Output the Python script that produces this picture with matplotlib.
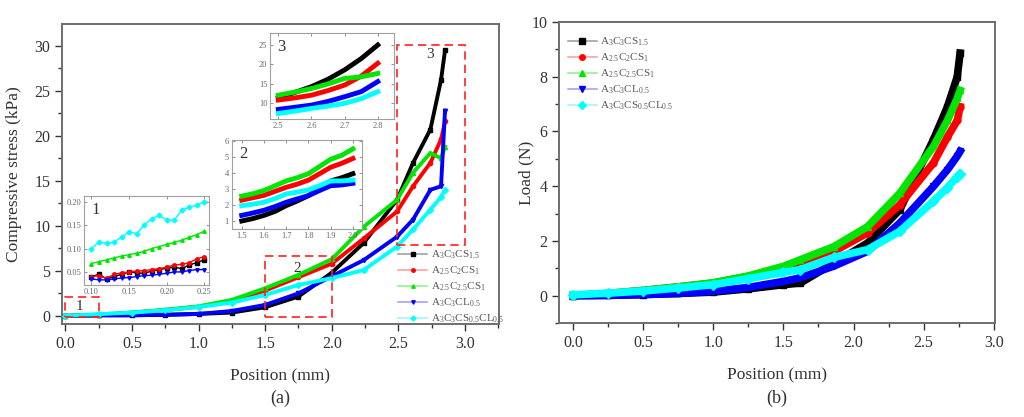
import matplotlib.pyplot as plt
from matplotlib.patches import Rectangle
from matplotlib.ticker import MultipleLocator

plt.rcParams['font.family'] = ['Liberation Serif', 'DejaVu Serif']
plt.rcParams['mathtext.fontset'] = 'custom'
plt.rcParams['mathtext.rm'] = 'Liberation Serif'

# series names and colours
labels = [r'$\mathrm{A_3C_3CS_{1.5}}$', r'$\mathrm{A_{2.5}C_2CS_1}$',
          r'$\mathrm{A_{2.5}C_{2.5}CS_1}$', r'$\mathrm{A_3C_3CL_{0.5}}$',
          r'$\mathrm{A_3C_3CS_{0.5}CL_{0.5}}$']
colors = ['#000000', '#ff0000', '#00e600', '#0000ff', '#00ffff']
markers = ['s', 'o', '^', 'v', 'D']
pale = ['#9a9a9a', '#ff9a9a', '#8af08a', '#9a9aff', '#9af5f5']

# (a) compressive stress (kPa) vs position (mm)
pos_a = [0.0, 0.25, 0.5, 0.75, 1.0, 1.25, 1.5, 1.75, 2.0, 2.24, 2.49, 2.61, 2.74, 2.82, 2.85]
black_a = [0, 0.08, 0.07, 0.12, 0.22, 0.37, 0.96, 2.15, 4.8, 8.1, 12.9, 17.0, 20.7, 26.2, 29.5]
red_a = [0, 0.085, 0.37, 0.65, 1.02, 1.65, 2.81, 4.3, 5.8, 8.6, 11.6, 14.4, 17.0, 19.6, 21.6]
green_a = [0, 0.137, 0.38, 0.68, 1.06, 1.78, 3.07, 4.56, 6.3, 9.9, 12.9, 15.9, 18.1, 17.5, 18.8]
blue_a = [0, 0.055, 0.07, 0.12, 0.22, 0.55, 1.22, 2.5, 4.4, 6.2, 8.8, 10.7, 14.0, 14.4, 22.8]
cyan_a = [0, 0.2, 0.36, 0.62, 0.98, 1.48, 2.33, 3.44, 4.2, 5.1, 7.7, 9.6, 11.8, 13.2, 14.0]

# inset 1
pos_i1 = [0.10, 0.11, 0.12, 0.13, 0.14, 0.15, 0.16, 0.17, 0.18, 0.19, 0.20, 0.21, 0.22, 0.23, 0.24, 0.25]
black_i1 = [0.04, 0.045, 0.035, 0.04, 0.045, 0.05, 0.048, 0.047, 0.052, 0.055, 0.058, 0.06, 0.057, 0.065, 0.07, 0.076]
red_i1 = [0.04, 0.042, 0.036, 0.045, 0.048, 0.05, 0.052, 0.053, 0.055, 0.057, 0.06, 0.065, 0.066, 0.07, 0.078, 0.083]
green_i1 = [0.068, 0.072, 0.076, 0.08, 0.084, 0.087, 0.09, 0.094, 0.1, 0.104, 0.109, 0.113, 0.118, 0.124, 0.13, 0.137]
blue_i1 = [0.035, 0.033, 0.033, 0.035, 0.037, 0.038, 0.04, 0.042, 0.043, 0.045, 0.047, 0.05, 0.05, 0.053, 0.055, 0.055]
cyan_i1 = [0.10, 0.114, 0.111, 0.114, 0.125, 0.136, 0.132, 0.15, 0.164, 0.171, 0.161, 0.161, 0.182, 0.189, 0.193, 0.2]

# inset 2
pos_i2 = [1.5, 1.55, 1.6, 1.65, 1.7, 1.75, 1.8, 1.85, 1.9, 1.95, 2.0]
black_i2 = [1.0, 1.15, 1.35, 1.6, 1.96, 2.25, 2.58, 3.05, 3.5, 3.7, 3.95]
red_i2 = [2.3, 2.45, 2.6, 2.85, 3.1, 3.3, 3.55, 3.95, 4.35, 4.6, 4.9]
green_i2 = [2.55, 2.7, 2.9, 3.2, 3.5, 3.7, 3.95, 4.4, 4.85, 5.1, 5.5]
blue_i2 = [1.35, 1.5, 1.67, 1.9, 2.17, 2.38, 2.58, 2.9, 3.2, 3.25, 3.35]
cyan_i2 = [1.95, 2.05, 2.17, 2.4, 2.69, 2.8, 2.94, 3.2, 3.5, 3.5, 3.55]

# inset 3
pos_i3 = [2.5, 2.55, 2.6, 2.65, 2.7, 2.75, 2.8]
black_i3 = [11.5, 12.8, 14.3, 16.2, 18.6, 21.5, 25.0]
red_i3 = [10.85, 11.4, 12.1, 13.3, 14.7, 17.0, 20.3]
green_i3 = [12.1, 12.9, 13.8, 15.0, 16.4, 16.8, 17.7]
blue_i3 = [8.45, 9.0, 9.55, 10.5, 11.7, 13.0, 15.6]
cyan_i3 = [7.4, 8.0, 8.7, 9.3, 10.0, 11.2, 13.0]

# (b) load (N) vs position (mm)
pos_b = [0.0, 0.25, 0.5, 0.75, 1.0, 1.25, 1.5, 1.62, 1.86, 2.1, 2.33, 2.57, 2.67, 2.74, 2.76]
black_b = [0, 0.01, 0.04, 0.08, 0.13, 0.25, 0.4, 0.46, 1.19, 1.92, 3.14, 5.7, 6.9, 8.0, 8.86]
red_b = [0, 0.08, 0.19, 0.32, 0.46, 0.7, 1.0, 1.13, 1.62, 2.29, 3.32, 4.85, 5.8, 6.4, 6.9]
green_b = [0, 0.08, 0.19, 0.32, 0.47, 0.72, 1.07, 1.31, 1.79, 2.52, 3.74, 5.45, 6.4, 7.21, 7.5]
blue_b = [0, 0.01, 0.04, 0.08, 0.16, 0.3, 0.52, 0.65, 1.08, 1.62, 2.65, 3.99, 4.6, 5.1, 5.27]
cyan_b = [0.03, 0.09, 0.17, 0.28, 0.4, 0.62, 0.85, 0.95, 1.4, 1.68, 2.35, 3.45, 3.95, 4.35, 4.45]

# zoom boxes on (a): x0, x1, y0, y1, label x, label y, label
zoom_boxes = [(0.0, 0.25, -0.15, 2.1, 0.11, 1.1, '1'),
              (1.5, 2.0, -0.15, 6.6, 1.74, 5.3, '2'),
              (2.49, 3.0, 7.9, 30.1, 2.74, 29.0, '3')]

series_a = [black_a, red_a, green_a, blue_a, cyan_a]
series_i1 = [black_i1, red_i1, green_i1, blue_i1, cyan_i1]
series_i2 = [black_i2, red_i2, green_i2, blue_i2, cyan_i2]
series_i3 = [black_i3, red_i3, green_i3, blue_i3, cyan_i3]
series_b = [black_b, red_b, green_b, blue_b, cyan_b]

TXT = '#333333'
SPINE = '#6e6e6e'


def style_main(ax):
    for s in ax.spines.values():
        s.set_color(SPINE)
        s.set_linewidth(1.4)
    ax.tick_params(which='both', direction='out', colors=TXT, labelsize=11.5,
                   top=False, right=False)
    ax.tick_params(which='major', length=5, width=1)
    ax.tick_params(which='minor', length=3, width=1)


def style_inset(ax, label):
    for s in ax.spines.values():
        s.set_color('#a0a0a0')
        s.set_linewidth(0.8)
    ax.tick_params(which='both', direction='in', colors='#666666', labelsize=6,
                   top=True, right=True, length=2, width=0.5, pad=2)
    ax.text(0.06, 0.93, label, transform=ax.transAxes, ha='left', va='top',
            fontsize=12, color=TXT)


def add_legend(ax, anchor, ms):
    handles = [plt.Line2D([], [], color=p, lw=1.1, marker=m, ms=ms, mfc=c, mec=c)
               for p, c, m in zip(pale, colors, markers)]
    ax.legend(handles, labels, loc='upper left', bbox_to_anchor=anchor,
              frameon=False, fontsize=8, handlelength=2.6, handletextpad=0.3,
              labelspacing=0.32, borderpad=0, borderaxespad=0,
              labelcolor='#555555')


fig = plt.figure(figsize=(10.24, 4.17), dpi=100)

# ---- panel (a)
ax = fig.add_axes([0.0605, 0.223, 0.4268, 0.719])
for ys, c, m in zip(series_a, colors, markers):
    ax.plot(pos_a, ys, color=c, lw=2.8, marker=m, ms=3, zorder=3)
for (x0, x1, y0, y1, tx, ty, t) in zoom_boxes:
    ax.add_patch(Rectangle((x0, y0), x1 - x0, y1 - y0, fill=False,
                           edgecolor='#ff2020', lw=1.2, ls=(0, (5, 3)), zorder=4))
    ax.text(tx, ty, t, ha='center', va='center', fontsize=11, color=TXT)
ax.set_xlim(-0.025, 3.255)
ax.set_ylim(-0.9, 32.4)
ax.xaxis.set_major_locator(MultipleLocator(0.5))
ax.xaxis.set_minor_locator(MultipleLocator(0.25))
ax.yaxis.set_major_locator(MultipleLocator(5))
ax.yaxis.set_minor_locator(MultipleLocator(2.5))
ax.xaxis.set_major_formatter(lambda v, p: f'{v:.1f}')
style_main(ax)
ax.set_xlabel('Position (mm)', fontsize=12.5, color=TXT, labelpad=12)
ax.set_ylabel('Compressive stress (kPa)', fontsize=12.5, color=TXT, labelpad=9)
add_legend(ax, (0.77, 0.252), 2.5)
fig.text(0.2735, 0.045, '(a)', ha='center', va='center', fontsize=13, color=TXT)

# inset 1
a1 = fig.add_axes([0.082, 0.3165, 0.122, 0.213])
for ys, c, m in zip(series_i1, colors, markers):
    a1.plot(pos_i1, ys, color=c, lw=1, marker=m, ms=2.5)
a1.set_xlim(0.09, 0.256)
a1.set_ylim(0.022, 0.212)
a1.set_xticks([0.10, 0.15, 0.20, 0.25])
a1.set_yticks([0.05, 0.10, 0.15, 0.20])
a1.xaxis.set_major_formatter(lambda v, p: f'{v:.2f}')
a1.yaxis.set_major_formatter(lambda v, p: f'{v:.2f}')
style_inset(a1, '1')

# inset 2
a2 = fig.add_axes([0.2263, 0.4508, 0.127, 0.2134])
for ys, c in zip(series_i2, colors):
    a2.plot(pos_i2, ys, color=c, lw=3.5)
a2.set_xlim(1.455, 2.04)
a2.set_ylim(0.5, 6.05)
a2.set_xticks([1.5, 1.6, 1.7, 1.8, 1.9, 2.0])
a2.set_yticks([1, 2, 3, 4, 5, 6])
style_inset(a2, '2')

# inset 3
a3 = fig.add_axes([0.2637, 0.7139, 0.1214, 0.2062])
for ys, c in zip(series_i3, colors):
    a3.plot(pos_i3, ys, color=c, lw=3.5)
a3.set_xlim(2.475, 2.85)
a3.set_ylim(5.9, 28)
a3.set_xticks([2.5, 2.6, 2.7, 2.8])
a3.set_yticks([10, 15, 20, 25])
style_inset(a3, '3')

# ---- panel (b)
bx = fig.add_axes([0.546, 0.2254, 0.4258, 0.722])
for ys, c, m in zip(series_b, colors, markers):
    bx.plot(pos_b, ys, color=c, lw=5.5, marker=m, ms=5, zorder=3)
bx.set_xlim(-0.1, 3.01)
bx.set_ylim(-1.0, 10.0)
bx.xaxis.set_major_locator(MultipleLocator(0.5))
bx.xaxis.set_minor_locator(MultipleLocator(0.25))
bx.yaxis.set_major_locator(MultipleLocator(2))
bx.yaxis.set_minor_locator(MultipleLocator(1))
bx.xaxis.set_major_formatter(lambda v, p: f'{v:.1f}')
style_main(bx)
bx.set_xlabel('Position (mm)', fontsize=12.5, color=TXT, labelpad=12)
bx.set_ylabel('Load (N)', fontsize=12.5, color=TXT, labelpad=-2)
add_legend(bx, (0.02, 0.955), 4)
fig.text(0.759, 0.045, '(b)', ha='center', va='center', fontsize=13, color=TXT)

fig.savefig('out.png', dpi=100)
